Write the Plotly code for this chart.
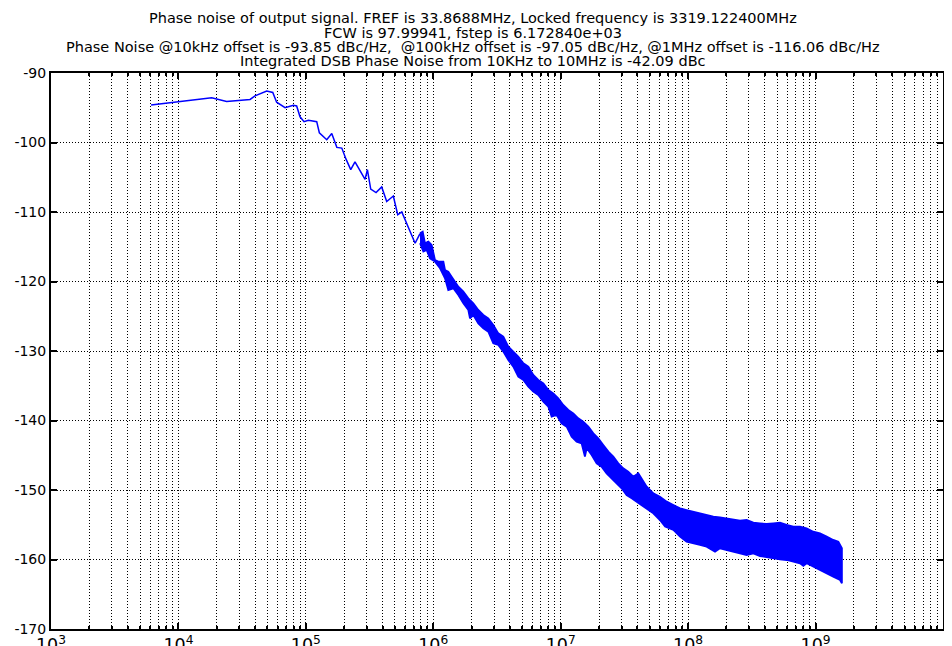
import plotly.graph_objects as go

# ---------------- data ----------------
# Low-offset part of the trace (single line): offset frequency [Hz], phase noise [dBc/Hz]
line_freq = [6100, 9700, 18240, 23900, 36500, 39900, 49300, 55000, 59000, 68700,
             79800, 84700, 90000, 96800, 104700, 121700, 127600, 145900, 159700,
             175000, 191500, 206700, 225000, 243000, 291500, 304000, 323000,
             355600, 393800, 431000, 486000, 526000, 566000, 720000, 787000]
line_db = [-94.6, -94.2, -93.55, -94.1, -93.8, -93.3, -92.6, -92.8, -94.2, -95.0,
           -94.65, -94.75, -96.3, -97.0, -96.8, -97.0, -98.6, -99.6, -98.7,
           -100.7, -100.8, -102.4, -103.9, -102.8, -105.3, -103.9, -106.7,
           -107.2, -106.4, -108.5, -107.7, -110.4, -110.0, -114.5, -113.1]

# Dense noisy part of the trace: upper envelope
hi_freq = [7.87e5, 8.26e5, 8.61e5, 9.15e5, 9.71e5, 1.031e6, 1.096e6, 1.200e6, 1.236e6, 1.312e6,
           1.393e6, 1.480e6, 1.573e6, 1.722e6, 1.884e6, 2.062e6, 2.256e6, 2.470e6, 2.703e6, 2.958e6,
           3.237e6, 3.545e6, 3.880e6, 4.246e6, 4.645e6, 5.093e6, 5.572e6, 6.095e6, 6.668e6, 7.311e6,
           7.998e6, 8.750e6, 9.572e6, 1.047e7, 1.148e7, 1.256e7, 1.374e7, 1.503e7, 1.648e7, 1.803e7,
           1.972e7, 2.158e7, 2.366e7, 2.588e7, 2.831e7, 3.097e7, 3.388e7, 3.715e7, 4.064e7, 4.73e7,
           5.33e7, 6.01e7, 6.79e7, 7.66e7, 8.64e7, 9.73e7, 1.099e8, 1.239e8, 1.397e8, 1.578e8,
           1.778e8, 2.004e8, 2.265e8, 2.553e8, 2.877e8, 3.251e8, 3.664e8, 4.130e8, 4.667e8, 5.260e8,
           5.929e8, 6.699e8, 7.551e8, 8.511e8, 9.594e8, 1.084e9, 1.222e9, 1.377e9, 1.510e9, 1.61e9]
hi_db = [-113.07, -112.83, -114.50, -114.26, -114.74, -116.90, -117.14, -117.14, -118.34, -118.58,
         -119.30, -120.02, -120.74, -121.46, -122.42, -123.14, -124.10, -124.82, -125.30, -126.26,
         -127.46, -127.94, -129.37, -130.09, -130.81, -131.77, -132.25, -133.45, -134.17, -134.65,
         -135.61, -136.09, -136.81, -137.77, -138.49, -138.97, -139.69, -140.16, -140.88, -141.84,
         -142.56, -143.52, -144.48, -145.20, -146.16, -146.88, -147.36, -148.08, -147.60, -149.52,
         -150.48, -150.96, -151.68, -152.16, -152.64, -152.88, -153.12, -153.36, -153.60, -153.84,
         -153.93, -154.08, -154.32, -154.41, -154.32, -154.70, -154.80, -154.89, -154.80, -154.70,
         -155.03, -155.27, -155.27, -155.51, -156.00, -156.23, -156.71, -157.19, -157.43, -158.39]

# Dense noisy part of the trace: lower envelope
lo_freq = [7.87e5, 8.36e5, 8.87e5, 9.42e5, 1.031e6, 1.130e6, 1.236e6, 1.312e6, 1.436e6, 1.573e6,
           1.722e6, 1.884e6, 1.941e6, 2.062e6, 2.256e6, 2.470e6, 2.703e6, 2.958e6, 3.237e6, 3.545e6,
           3.880e6, 4.246e6, 4.645e6, 5.093e6, 5.572e6, 6.095e6, 6.668e6, 7.311e6, 7.998e6, 8.49e6,
           9.29e6, 1.016e7, 1.114e7, 1.219e7, 1.334e7, 1.459e7, 1.549e7, 1.600e7, 1.750e7, 1.914e7,
           2.094e7, 2.291e7, 2.512e7, 2.748e7, 3.006e7, 3.289e7, 3.606e7, 3.945e7, 4.315e7, 4.73e7,
           5.33e7, 6.01e7, 6.59e7, 7.66e7, 8.64e7, 9.73e7, 1.099e8, 1.239e8, 1.397e8, 1.626e8,
           1.778e8, 2.004e8, 2.265e8, 2.553e8, 2.877e8, 3.251e8, 3.664e8, 4.130e8, 4.667e8, 5.260e8,
           5.929e8, 6.699e8, 7.551e8, 8.02e8, 8.511e8, 9.594e8, 1.084e9, 1.222e9, 1.377e9, 1.556e9, 1.61e9]
lo_db = [-114.50, -115.70, -115.46, -116.66, -117.14, -118.10, -119.54, -121.22, -120.98, -121.94,
         -123.14, -124.10, -125.30, -124.82, -126.02, -126.74, -127.22, -128.89, -129.13, -130.09,
         -131.29, -132.25, -133.69, -134.17, -135.13, -135.85, -136.33, -137.29, -138.01, -139.45,
         -139.21, -140.41, -140.89, -142.32, -143.04, -143.28, -145.20, -144.00, -144.96, -146.16,
         -146.64, -147.60, -148.32, -149.04, -149.76, -150.72, -151.20, -151.68, -152.16, -152.64,
         -153.36, -154.32, -155.27, -155.75, -156.71, -157.43, -157.67, -157.91, -158.15, -158.87,
         -158.39, -158.63, -158.87, -159.11, -159.35, -159.11, -159.50, -159.59, -159.83, -159.98,
         -160.07, -160.31, -160.55, -160.93, -160.55, -161.13, -161.51, -161.99, -162.47, -162.95, -163.43]

y_ticks = [-170, -160, -150, -140, -130, -120, -110, -100, -90]
y_tick_labels = ["-170", "-160", "-150", "-140", "-130", "-120", "-110", "-100", "-90"]

title_lines = [
    "Phase noise of output signal. FREF is 33.8688MHz, Locked frequency is 3319.122400MHz",
    "FCW is 97.99941, fstep is 6.172840e+03",
    "Phase Noise @10kHz offset is -93.85 dBc/Hz,  @100kHz offset is -97.05 dBc/Hz, @1MHz offset is -116.06 dBc/Hz",
    "Integrated DSB Phase Noise from 10KHz to 10MHz is -42.09 dBc",
]

# ---------------- figure ----------------
BLUE = "#0000ff"
FONT = "DejaVu Sans, Verdana, sans-serif"

fig = go.Figure()
fig.add_trace(go.Scatter(x=line_freq, y=line_db, mode="lines",
                         line=dict(color=BLUE, width=1.5), showlegend=False,
                         hoverinfo="skip"))
fig.add_trace(go.Scatter(x=hi_freq + lo_freq[::-1], y=hi_db + lo_db[::-1], mode="lines",
                         fill="toself", fillcolor=BLUE,
                         line=dict(color=BLUE, width=1.8), showlegend=False,
                         hoverinfo="skip"))

grid_dash = "1px,2px"
axis_common = dict(
    showline=True, linecolor="black", linewidth=2, mirror="ticks",
    ticks="inside", tickcolor="black", tickwidth=1.5, ticklen=6,
    showgrid=True, gridcolor="black", griddash=grid_dash, gridwidth=1,
    zeroline=False, automargin=False,
    tickfont=dict(family=FONT, size=14, color="black"),
)

fig.update_xaxes(type="log", range=[3, 10.0002], dtick=1, exponentformat="power",
                 ticklabelstandoff=0,
                 minor=dict(dtick="D1", showgrid=True, gridcolor="black", griddash=grid_dash,
                            gridwidth=1, ticks="inside", ticklen=3, tickcolor="black"),
                 **axis_common)
fig.update_yaxes(range=[-170, -90], tickvals=y_ticks, ticktext=y_tick_labels, **axis_common)

# title lines as separate texts so their spacing matches the reference
shifts = [55, 40, 26, 12]
for txt, sh in zip(title_lines, shifts):
    fig.add_annotation(text=txt, xref="paper", yref="paper", x=0.473, y=1,
                       xanchor="center", yanchor="middle", yshift=sh, showarrow=False,
                       font=dict(family=FONT, size=14.5, color="black"))

# page body adds an 8 px offset, so the figure is sized to fit the 952x646 window
fig.update_layout(
    width=944, height=638,
    margin=dict(l=43, r=9, t=65, b=17),
    paper_bgcolor="white", plot_bgcolor="white",
)

fig.write_html("out.html")
